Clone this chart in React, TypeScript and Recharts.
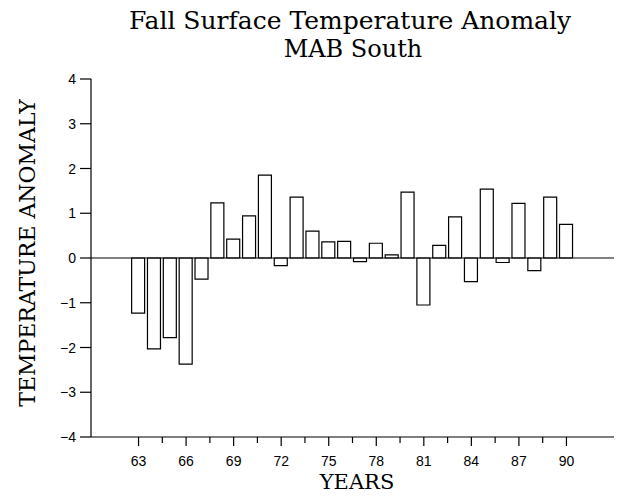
import React from "react"
import { Bar, BarChart, XAxis, YAxis, ReferenceLine } from "recharts"

// Fall surface temperature anomaly, MAB South, by year (19xx)
const years = [63, 64, 65, 66, 67, 68, 69, 70, 71, 72, 73, 74, 75, 76, 77, 78, 79, 80, 81, 82, 83, 84, 85, 86, 87, 88, 89, 90]
const anomaly = [
  -1.23, -2.03, -1.78, -2.37, -0.47, 1.23, 0.42, 0.94, 1.85, -0.17, 1.36, 0.6, 0.36, 0.37,
  -0.08, 0.33, 0.07, 1.47, -1.05, 0.28, 0.92, -0.53, 1.54, -0.1, 1.22, -0.28, 1.36, 0.75,
]
const xTicks = [63, 64.5, 66, 67.5, 69, 70.5, 72, 73.5, 75, 76.5, 78, 79.5, 81, 82.5, 84, 85.5, 87, 88.5, 90]
const yTicks = [-4, -3, -2, -1, 0, 1, 2, 3, 4]

const data = years.map((y, i) => ({ year: y, value: anomaly[i] }))

const serif = "DejaVu Serif, serif"
const sans = "Liberation Sans, Arial, sans-serif"

// recharts hands ticks a position already pushed 8px away from the axis
function XTick(props: any) {
  const { x, payload } = props
  const y = props.y - 8
  const major = payload.value % 3 === 0
  return (
    <g>
      <line x1={x} y1={y} x2={x} y2={y + (major ? 9 : 6)} stroke="#000" strokeWidth={1.2} />
      {major && (
        <text x={x} y={y + 29} textAnchor="middle" style={{ fontFamily: sans }} fontSize={14} fill="#000">
          {payload.value}
        </text>
      )}
    </g>
  )
}

function YTick(props: any) {
  const { y, payload } = props
  const x = props.x + 8
  const v = payload.value
  return (
    <g>
      <line x1={x} y1={y} x2={x - 11} y2={y} stroke="#000" strokeWidth={1.2} />
      <text x={x - 15} y={y + 5} textAnchor="end" style={{ fontFamily: sans }} fontSize={14} fill="#000">
        {v < 0 ? `\u2212${Math.abs(v)}` : v}
      </text>
    </g>
  )
}

export default function App() {
  return (
    <div style={{ position: "absolute", left: 0, top: 0, background: "#fff" }}>
      <BarChart width={626} height={497} data={data} margin={{ top: 79, right: 12, left: 0, bottom: 0 }}>
        <XAxis
          dataKey="year"
          type="number"
          domain={[60, 93]}
          ticks={xTicks}
          interval={0}
          height={60}
          tickLine={false}
          axisLine={{ stroke: "#000", strokeWidth: 1.2 }}
          tick={<XTick />}
        />
        <YAxis
          type="number"
          domain={[-4, 4]}
          ticks={yTicks}
          interval={0}
          width={91}
          tickLine={false}
          axisLine={{ stroke: "#000", strokeWidth: 1.2 }}
          tick={<YTick />}
        />
        <ReferenceLine y={0} stroke="#000" strokeWidth={1.2} />
        <Bar dataKey="value" fill="#fff" stroke="#000" strokeWidth={1.2} barSize={13} isAnimationActive={false} />
        <text x={350} y={29} textAnchor="middle" style={{ fontFamily: serif }} fontSize={25} fill="#000">
          Fall Surface Temperature Anomaly
        </text>
        <text x={353} y={57} textAnchor="middle" style={{ fontFamily: serif }} fontSize={24} fill="#000">
          MAB South
        </text>
        <text x={357} y={489} textAnchor="middle" style={{ fontFamily: serif }} fontSize={21} fill="#000">
          YEARS
        </text>
        <text
          x={35}
          y={253}
          textAnchor="middle"
          style={{ fontFamily: serif }}
          fontSize={22}
          fill="#000"
          transform="rotate(-90 35 253)"
        >
          TEMPERATURE ANOMALY
        </text>
      </BarChart>
    </div>
  )
}
